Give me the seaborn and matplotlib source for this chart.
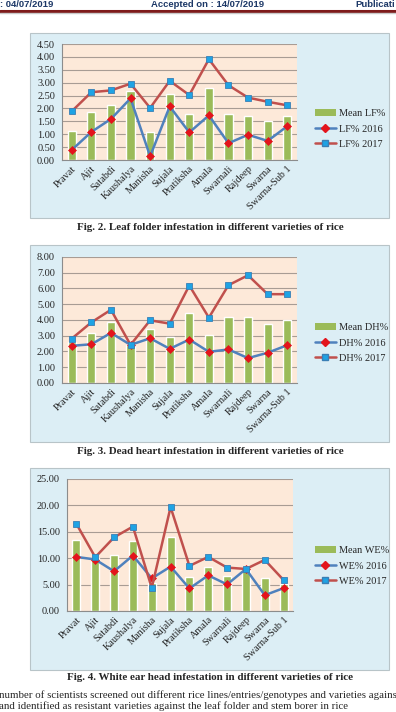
import numpy as np
import pandas as pd
import matplotlib
matplotlib.use("Agg")
import matplotlib.pyplot as plt
import seaborn as sns
from matplotlib.patches import Rectangle, Patch
from matplotlib.lines import Line2D

# data
varieties = ["Pravat", "Ajit", "Satabdi", "Kaushalya", "Manisha", "Sujala",
             "Pratiksha", "Amala", "Swarnali", "Rajdeep", "Swarna", "Swarna-Sub 1"]

lf_mean = [1.14, 1.85, 2.15, 2.68, 1.09, 2.57, 1.80, 2.81, 1.77, 1.71, 1.50, 1.72]
lf_2016 = [0.39, 1.09, 1.59, 2.39, 0.14, 2.08, 1.07, 1.73, 0.65, 0.98, 0.74, 1.31]
lf_2017 = [1.89, 2.63, 2.70, 2.96, 2.02, 3.07, 2.52, 3.91, 2.90, 2.42, 2.26, 2.12]

dh_mean = [2.59, 3.16, 3.90, 2.42, 3.40, 2.95, 4.46, 3.05, 4.17, 4.21, 3.77, 4.02]
dh_2016 = [2.36, 2.46, 3.18, 2.42, 2.84, 2.17, 2.76, 1.98, 2.13, 1.58, 1.92, 2.40]
dh_2017 = [2.82, 3.85, 4.65, 2.42, 3.98, 3.77, 6.19, 4.15, 6.21, 6.84, 5.64, 5.64]

we_mean = [13.38, 9.97, 10.70, 13.18, 5.29, 13.95, 6.37, 8.41, 6.62, 8.00, 6.31, 5.10]
we_2016 = [10.25, 9.75, 7.52, 10.51, 6.18, 8.41, 4.27, 6.75, 5.03, 7.96, 2.99, 4.33]
we_2017 = [16.50, 10.19, 13.95, 15.99, 4.39, 19.68, 8.54, 10.25, 8.22, 7.96, 9.68, 5.86]

captions = ["Fig. 2. Leaf folder infestation in different varieties of rice",
            "Fig. 3. Dead heart infestation in different varieties of rice",
            "Fig. 4. White ear head infestation in different varieties of rice"]

sns.set_style("white")
plt.rcParams["font.family"] = ["Liberation Serif", "DejaVu Serif"]

W, H = 396, 712
fig = plt.figure(figsize=(W / 100, H / 100), dpi=100)
fig.patch.set_facecolor("white")

GREEN = "#9bbb59"
BLUE = "#4f81bd"
RED = "#c0504d"
SQ = "#1fa3e4"
DIA = "#e3141c"


def box(x0, y0, x1, y1):
    return [x0 / W, 1 - y1 / H, (x1 - x0) / W, (y1 - y0) / H]


def panel(bg, plot, mean, y16, y17, tag, ymax, step, leg_y, cap_y, cap):
    # light blue chart area
    fig.patches.append(Rectangle((bg[0] / W, 1 - bg[3] / H), (bg[2] - bg[0]) / W,
                                 (bg[3] - bg[1]) / H, transform=fig.transFigure,
                                 facecolor="#dceef5", edgecolor="#b8c4c8", lw=0.8, zorder=-1))
    ax = fig.add_axes(box(*plot))
    ax.set_facecolor("#fde9d9")
    df = pd.DataFrame({"Variety": varieties, "Mean": mean, "y16": y16, "y17": y17})
    sns.barplot(data=df, x="Variety", y="Mean", color=GREEN, saturation=1,
                width=0.42, ax=ax, zorder=2)
    sns.pointplot(data=df, x="Variety", y="y16", color=BLUE, markers="D", ax=ax,
                  linewidth=1.8, markersize=3.8, markerfacecolor=DIA, markeredgecolor=DIA,
                  markeredgewidth=0.5, zorder=3)
    sns.pointplot(data=df, x="Variety", y="y17", color=RED, markers="s", ax=ax,
                  linewidth=1.8, markersize=5, markerfacecolor=SQ, markeredgecolor="#3a7fb5",
                  markeredgewidth=0.6, zorder=4)
    n = len(varieties)
    ax.set_xlim(-0.5, n - 0.5)
    ax.set_ylim(0, ymax)
    ax.set_yticks(np.arange(0, ymax + step / 2, step))
    ax.set_yticklabels([f"{v:.2f}" for v in np.arange(0, ymax + step / 2, step)], fontsize=7.4)
    ax.set_xticks(range(n))
    ax.set_xticklabels(varieties, rotation=45, ha="right", rotation_mode="anchor", fontsize=7.4)
    ax.set_xticks(np.arange(-0.5, n, 1), minor=True)
    ax.tick_params(axis="x", which="major", length=0, pad=3)
    ax.tick_params(axis="x", which="minor", length=3, color="#8c8c8c", width=0.7)
    ax.tick_params(axis="y", length=3, color="#8c8c8c", width=0.7, pad=2)
    ax.set_xlabel("")
    ax.set_ylabel("")
    ax.yaxis.grid(True, color="#a89c94", lw=0.8)
    ax.set_axisbelow(True)
    for s in ["top", "right"]:
        ax.spines[s].set_visible(False)
    for s in ["left", "bottom"]:
        ax.spines[s].set_color("#8c8c8c")
        ax.spines[s].set_linewidth(0.8)
    if ax.get_legend():
        ax.get_legend().remove()

    handles = [Patch(facecolor=GREEN, edgecolor="none"),
               Line2D([0], [0], color=BLUE, lw=1.8, marker="D", ms=3.8, mfc=DIA, mec=DIA),
               Line2D([0], [0], color=RED, lw=1.8, marker="s", ms=5, mfc=SQ, mec="#3a7fb5")]
    labels = [f"Mean {tag}%", f"{tag}% 2016", f"{tag}% 2017"]
    fig.legend(handles, labels, loc="center left", bbox_to_anchor=(310 / W, 1 - leg_y / H),
               frameon=False, fontsize=7.4, handlelength=2.0, handletextpad=0.3,
               labelspacing=0.6, borderpad=0)
    fig.text(210 / W, 1 - cap_y / H, cap, ha="center", va="center",
             fontsize=7.9, fontweight="bold")


panel((30, 33, 389, 218), (62, 44, 297, 160), lf_mean, lf_2016, lf_2017, "LF",
      4.5, 0.5, 129, 228, captions[0])
panel((30, 245, 389, 442), (62, 257, 297, 383), dh_mean, dh_2016, dh_2017, "DH",
      8.0, 1.0, 343, 451, captions[1])
panel((30, 468, 389, 670), (67, 479, 293, 611), we_mean, we_2016, we_2017, "WE",
      25.0, 5.0, 566, 678, captions[2])

# page header
hdr = dict(fontsize=6.8, fontweight="bold", color="#1c3766", va="center",
           family=["Liberation Sans", "DejaVu Sans"])
fig.text(0 / W, 1 - 4.5 / H, ": 04/07/2019", ha="left", **hdr)
fig.text(208 / W, 1 - 4.5 / H, "Accepted on : 14/07/2019", ha="center", **hdr)
fig.text(395 / W, 1 - 4.5 / H, "Publicati", ha="right", **hdr)
fig.add_artist(Line2D([0, 1], [1 - 10.5 / H, 1 - 10.5 / H], color="#7e1b1b", lw=2.2,
                      transform=fig.transFigure))
fig.add_artist(Line2D([0, 1], [1 - 13 / H, 1 - 13 / H], color="#c9c9c9", lw=1.0,
                      transform=fig.transFigure))

# body text below the figures
fig.text(-1 / W, 1 - 695 / H,
         "number of scientists screened out different rice lines/entries/genotypes and varieties agains",
         ha="left", va="center", fontsize=7.8)
fig.text(-1 / W, 1 - 706 / H,
         "and identified as resistant varieties against the leaf folder and stem borer in rice",
         ha="left", va="center", fontsize=7.8)

fig.savefig("out.png", dpi=100)
